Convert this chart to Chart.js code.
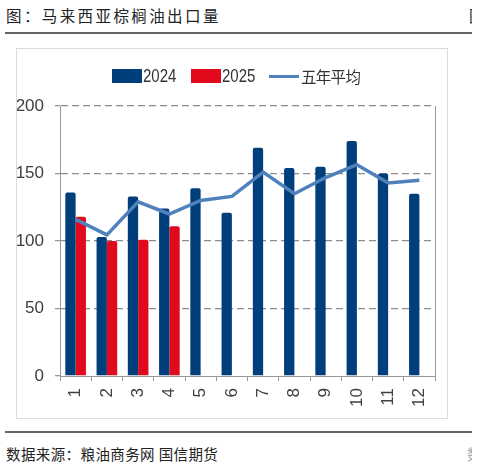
<!DOCTYPE html>
<html>
<head>
<meta charset="utf-8">
<script src="https://cdn.jsdelivr.net/npm/chart.js@4.4.1/dist/chart.umd.min.js"></script>
<style>
  html, body { margin: 0; padding: 0; background: #fff; }
  body { width: 477px; height: 465px; position: relative; overflow: hidden; }
  #title { position: absolute; left: 6px; top: 4px; font: 15.5px 'Noto Sans CJK SC', sans-serif; letter-spacing: 2.4px; color: #222; }
  .cut { position: absolute; overflow: hidden; white-space: nowrap; font: 15.5px 'Noto Sans CJK SC', sans-serif; color: #222; }
  .rule { position: absolute; left: 5px; width: 467px; height: 2px; background: #666; }
  #frame { position: absolute; left: 16px; top: 48px; width: 432px; height: 371px; border: 1px solid #dcdcdc; box-sizing: border-box; }
  #frame canvas { display: block; }
  #legend { position: absolute; top: 66px; left: 0; height: 20px; }
  .lg-item { position: absolute; top: 0; height: 20px; display: flex; align-items: center; font: 19px 'Liberation Sans', sans-serif; color: #333; white-space: nowrap; }
  .lg-swatch { width: 30px; height: 14px; margin-right: 1px; }
  .lg-line { width: 30px; height: 3px; margin-right: 2px; }
  .lg-num { display: inline-block; transform: scaleX(0.79); transform-origin: left center; }
  .lg-cjk { font: 15.5px 'Noto Sans CJK SC', sans-serif; letter-spacing: -0.7px; }
  #source { position: absolute; left: 6px; top: 443px; font: 14.5px 'Noto Sans CJK SC', sans-serif; letter-spacing: 0.4px; color: #222; }
</style>
</head>
<body>
<div id="title">图：马来西亚棕榈油出口量</div>
<div class="cut" style="left:469px;top:4px;width:3px">图</div>
<div class="rule" style="top:32px"></div>
<div id="frame"><canvas id="chart" width="430" height="369"></canvas></div>
<div id="legend"></div>
<div class="rule" style="top:431px"></div>
<div id="source">数据来源：粮油商务网 国信期货</div>
<div class="cut" style="left:467px;top:443px;width:5px;font-size:14.5px;color:#aaa">数</div>
<script>
// 数据（万吨），按月
const months = ['1', '2', '3', '4', '5', '6', '7', '8', '9', '10', '11', '12'];
const exports2024 = [136, 103, 133, 124, 139, 121, 169, 154, 155, 174, 150, 135];
const exports2025 = [118, 100, 101, 111, null, null, null, null, null, null, null, null];
const fiveYearAvg = [116, 104.5, 129, 120, 130, 133, 151, 135, 147, 156.5, 143, 145];
const yTicks = [0, 50, 100, 150, 200];

const seriesNames = ['2024', '2025', '五年平均'];
const BLUE = '#003f7b';
const RED = '#e10a1c';
const LINE = '#4f81bd';
const AXIS = '#999999';
const GRID = '#8c8c8c';
const TXT = '#404040';
const tickFont = { family: "'Liberation Sans', Arial, sans-serif", size: 17 };

const ctx = document.getElementById('chart').getContext('2d');
const chart = new Chart(ctx, {
  type: 'bar',
  data: {
    labels: months,
    datasets: [
      { label: seriesNames[0], data: exports2024, backgroundColor: BLUE, borderWidth: 0, borderRadius: 2,
        categoryPercentage: 0.66, barPercentage: 1.0 },
      { label: seriesNames[1], data: exports2025, backgroundColor: RED, borderWidth: 0, borderRadius: 2,
        categoryPercentage: 0.66, barPercentage: 1.0 },
      { type: 'line', label: seriesNames[2], data: fiveYearAvg, borderColor: LINE, borderWidth: 3.5,
        pointRadius: 0, tension: 0, fill: false, order: -1 }
    ]
  },
  options: {
    responsive: false,
    animation: false,
    layout: { padding: { top: 57, left: 0, right: 5, bottom: 0 } },
    plugins: { legend: { display: false }, tooltip: { enabled: false } },
    scales: {
      x: {
        offset: true,
        grid: { display: true, offset: true, drawOnChartArea: false, drawTicks: true, tickLength: 5, color: AXIS, tickColor: AXIS },
        border: { display: true, color: AXIS, width: 1 },
        ticks: { minRotation: 90, maxRotation: 90, padding: 7, color: TXT, font: tickFont },
        afterFit: s => { s.height = 42; }
      },
      y: {
        min: yTicks[0],
        max: yTicks[yTicks.length - 1],
        afterBuildTicks: s => { s.ticks = yTicks.map(v => ({ value: v })); },
        grid: {
          color: c => (c.tick && c.tick.value === 0) ? 'rgba(0,0,0,0)' : GRID,
          tickColor: AXIS, tickLength: 5, lineWidth: 1.3
        },
        border: { display: true, color: AXIS, width: 1, dash: [7, 4] },
        ticks: { padding: 11, color: TXT, font: tickFont },
        afterFit: s => { s.width = 43; }
      },
      y2: {
        position: 'right',
        display: true,
        grid: { display: false, drawTicks: false },
        ticks: { display: false },
        border: { display: true, color: AXIS, width: 1 },
        afterFit: s => { s.width = 0; }
      }
    }
  }
});

// 图例（由数据集生成）
const legendPos = [112, 191, 269];
const legend = document.getElementById('legend');
chart.data.datasets.forEach((ds, i) => {
  const item = document.createElement('div');
  item.className = 'lg-item';
  item.style.left = legendPos[i] + 'px';
  const mark = document.createElement('span');
  if (ds.type === 'line') {
    mark.className = 'lg-line';
    mark.style.background = ds.borderColor;
  } else {
    mark.className = 'lg-swatch';
    mark.style.background = ds.backgroundColor;
  }
  const text = document.createElement('span');
  text.textContent = ds.label;
  text.className = /[\u4e00-\u9fff]/.test(ds.label) ? 'lg-cjk' : 'lg-num';
  item.appendChild(mark);
  item.appendChild(text);
  legend.appendChild(item);
});
</script>
</body>
</html>
